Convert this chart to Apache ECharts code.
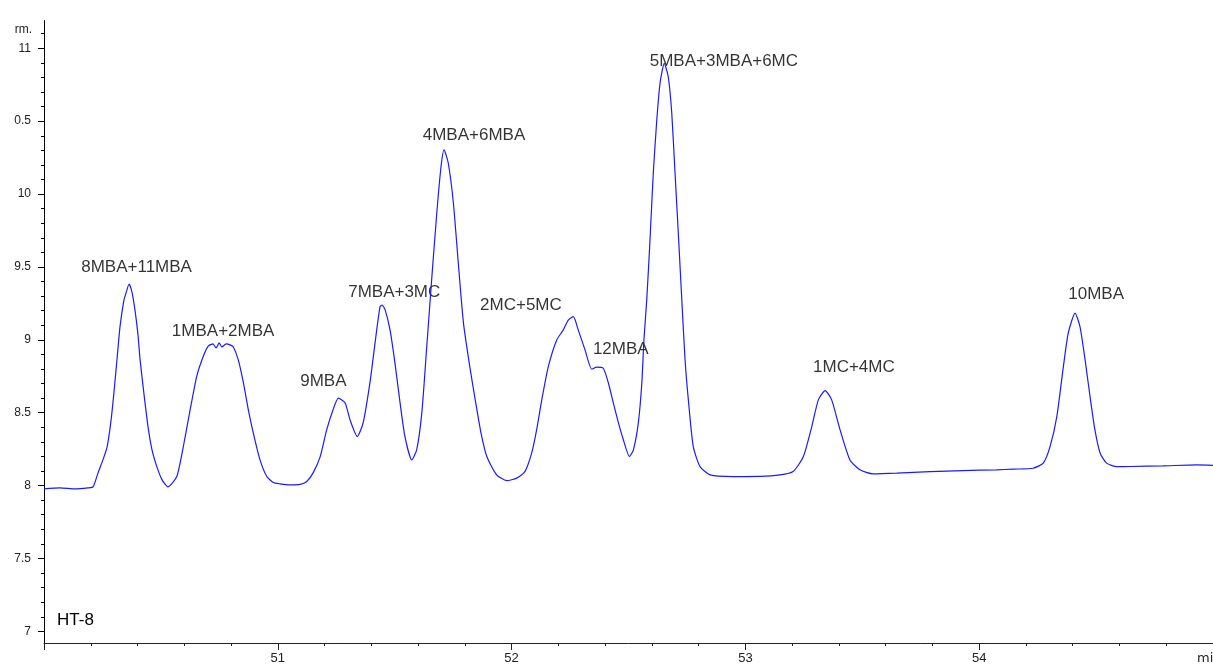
<!DOCTYPE html>
<html>
<head>
<meta charset="utf-8">
<title>HT-8</title>
<script src="https://cdn.jsdelivr.net/npm/echarts@6/dist/echarts.min.js"></script>
<style>
  html, body { margin: 0; padding: 0; background: #fff; }
  #chart { width: 1213px; height: 668px; }
</style>
</head>
<body>
<div id="chart"></div>
<script>
// retention time (min)
const timeMin = [
  50.000, 50.068, 50.133, 50.188, 50.210, 50.231, 50.252, 50.270, 50.287, 50.299,
  50.312, 50.325, 50.342, 50.351, 50.364, 50.376, 50.389, 50.402, 50.411, 50.428,
  50.445, 50.462, 50.483, 50.505, 50.530, 50.568, 50.596, 50.625, 50.653, 50.681,
  50.703, 50.723, 50.736, 50.749, 50.761, 50.779, 50.796, 50.810, 50.831, 50.853,
  50.874, 50.895, 50.924, 50.953, 50.981, 51.009, 51.052, 51.095, 51.124, 51.151,
  51.181, 51.209, 51.236, 51.259, 51.288, 51.309, 51.340, 51.365, 51.394, 51.416,
  51.437, 51.446, 51.459, 51.480, 51.501, 51.523, 51.544, 51.573, 51.594, 51.616,
  51.637, 51.658, 51.680, 51.698, 51.711, 51.729, 51.751, 51.772, 51.794, 51.822,
  51.848, 51.869, 51.894, 51.936, 51.979, 52.022, 52.057, 52.086, 52.107, 52.129,
  52.157, 52.193, 52.221, 52.243, 52.264, 52.285, 52.314, 52.343, 52.364, 52.392,
  52.414, 52.435, 52.457, 52.478, 52.504, 52.521, 52.542, 52.557, 52.566, 52.578,
  52.592, 52.606, 52.621, 52.635, 52.653, 52.670, 52.685, 52.699, 52.713, 52.728,
  52.742, 52.756, 52.777, 52.806, 52.849, 52.947, 53.063, 53.148, 53.204, 53.248,
  53.284, 53.312, 53.341, 53.369, 53.405, 53.447, 53.490, 53.546, 53.647, 53.790,
  53.931, 54.075, 54.145, 54.230, 54.274, 54.303, 54.332, 54.360, 54.381, 54.410,
  54.431, 54.453, 54.474, 54.495, 54.517, 54.545, 54.588, 54.645, 54.786, 54.930,
  55.000
];

// detector signal
const signal = [
  7.977, 7.984, 7.977, 7.984, 7.991, 8.087, 8.176, 8.266, 8.451, 8.636,
  8.862, 9.089, 9.274, 9.322, 9.383, 9.329, 9.205, 9.034, 8.862, 8.622,
  8.403, 8.245, 8.128, 8.039, 7.991, 8.062, 8.268, 8.519, 8.748, 8.885,
  8.958, 8.972, 8.944, 8.979, 8.951, 8.972, 8.965, 8.951, 8.862, 8.704,
  8.519, 8.362, 8.176, 8.062, 8.021, 8.012, 8.005, 8.008, 8.028, 8.087,
  8.197, 8.382, 8.519, 8.600, 8.567, 8.451, 8.336, 8.430, 8.704, 8.979,
  9.226, 9.239, 9.205, 9.068, 8.842, 8.567, 8.334, 8.176, 8.245, 8.499,
  8.951, 9.411, 9.870, 10.186, 10.303, 10.213, 9.939, 9.527, 9.116, 8.807,
  8.554, 8.362, 8.199, 8.074, 8.034, 8.051, 8.096, 8.224, 8.382, 8.588,
  8.816, 8.999, 9.068, 9.137, 9.159, 9.068, 8.931, 8.798, 8.812, 8.805,
  8.704, 8.567, 8.430, 8.314, 8.199, 8.245, 8.430, 8.704, 8.999, 9.274,
  9.685, 10.145, 10.508, 10.762, 10.897, 10.805, 10.556, 10.145, 9.733, 9.274,
  8.862, 8.588, 8.267, 8.130, 8.073, 8.062, 8.063, 8.073, 8.096, 8.199,
  8.405, 8.588, 8.652, 8.588, 8.382, 8.176, 8.108, 8.080, 8.085, 8.096,
  8.103, 8.108, 8.113, 8.119, 8.154, 8.267, 8.473, 8.816, 9.047, 9.183,
  9.091, 8.862, 8.611, 8.382, 8.224, 8.154, 8.130, 8.131, 8.135, 8.142,
  8.139
];

// peak annotations (text centre)
const peakNames = ['8MBA+11MBA', '1MBA+2MBA', '9MBA', '7MBA+3MC', '4MBA+6MBA',
                   '2MC+5MC', '12MBA', '5MBA+3MBA+6MC', '1MC+4MC', '10MBA'];
const peakTimes = [50.396, 50.766, 51.195, 51.498, 51.839, 52.040, 52.467, 52.908, 53.464, 54.500];
const peakLevels = [9.500, 9.061, 8.713, 9.325, 10.405, 9.240, 8.935, 10.909, 8.808, 9.313];

// y axis ticks
const yMajorTicks = [7, 7.5, 8, 8.5, 9, 9.5, 10, 10.5, 11];
const yTickText = ['7', '7.5', '8', '8.5', '9', '9.5', '10', '0.5', '11'];
const yMinorTicks = [7.1, 7.2, 7.3, 7.4, 7.6, 7.7, 7.8, 7.9, 8.1, 8.2, 8.3, 8.4,
  8.6, 8.7, 8.8, 8.9, 9.1, 9.2, 9.3, 9.4, 9.6, 9.7, 9.8, 9.9, 10.1, 10.2, 10.3,
  10.4, 10.6, 10.7, 10.8, 10.9, 11.1];

const font = "'Liberation Sans', Arial, sans-serif";
const axisColor = '#222';

const chart = echarts.init(document.getElementById('chart'));
chart.setOption({
  animation: false,
  textStyle: { fontFamily: font },
  title: {
    text: 'HT-8',
    left: 57,
    top: 612,
    padding: 0,
    textStyle: { fontFamily: font, fontSize: 17, fontWeight: 'normal', color: '#000' }
  },
  grid: { left: 44, right: 0, top: 20.6, bottom: 25, outerBoundsMode: 'none' },
  xAxis: {
    type: 'value',
    min: 50,
    max: 55,
    interval: 1,
    name: 'min',
    nameLocation: 'end',
    nameGap: -16,
    nameTextStyle: {
      fontFamily: 'DejaVu Sans, sans-serif',
      fontSize: 13,
      color: '#222',
      align: 'left',
      verticalAlign: 'top',
      padding: [9, 0, 0, 0]
    },
    axisLine: { onZero: false, lineStyle: { color: axisColor, width: 1 } },
    axisTick: { length: 7, lineStyle: { color: axisColor } },
    minorTick: { show: true, splitNumber: 5, length: 3, lineStyle: { color: axisColor } },
    axisLabel: { showMinLabel: false, showMaxLabel: false, margin: 9, fontSize: 13, color: '#222' },
    splitLine: { show: false }
  },
  yAxis: [
    {
      type: 'value',
      min: 6.92,
      max: 11.19,
      position: 'left',
      name: 'rm.',
      nameLocation: 'end',
      nameGap: -9,
      nameTextStyle: {
        fontSize: 12,
        color: '#222',
        align: 'right',
        verticalAlign: 'middle',
        padding: [0, 12, 0, 0]
      },
      axisLine: { show: true, onZero: false, lineStyle: { color: '#000', width: 1 } },
      axisTick: { show: true, length: 6, customValues: yMajorTicks, lineStyle: { color: '#000' } },
      axisLabel: {
        customValues: yMajorTicks,
        formatter: function (v) {
          const i = yMajorTicks.indexOf(v);
          return i >= 0 ? yTickText[i] : '';
        },
        margin: 13,
        fontSize: 12,
        color: '#222'
      },
      splitLine: { show: false }
    },
    {
      type: 'value',
      min: 6.92,
      max: 11.19,
      position: 'left',
      axisLine: { show: false },
      axisTick: { show: true, length: 3, customValues: yMinorTicks, lineStyle: { color: '#000' } },
      axisLabel: { show: false },
      splitLine: { show: false }
    }
  ],
  series: [
    {
      name: 'HT-8',
      type: 'line',
      yAxisIndex: 0,
      data: timeMin.map((t, i) => [t, signal[i]]),
      showSymbol: false,
      smooth: 0.2,
      lineStyle: { color: '#1a1aff', width: 1.2 }
    },
    {
      name: 'peaks',
      type: 'scatter',
      yAxisIndex: 0,
      silent: true,
      symbolSize: 1,
      itemStyle: { color: 'rgba(0,0,0,0)' },
      data: peakNames.map((n, i) => ({ name: n, value: [peakTimes[i], peakLevels[i]] })),
      label: {
        show: true,
        formatter: '{b}',
        position: 'inside',
        fontFamily: font,
        fontSize: 17,
        color: '#000'
      }
    }
  ]
});
</script>
</body>
</html>
